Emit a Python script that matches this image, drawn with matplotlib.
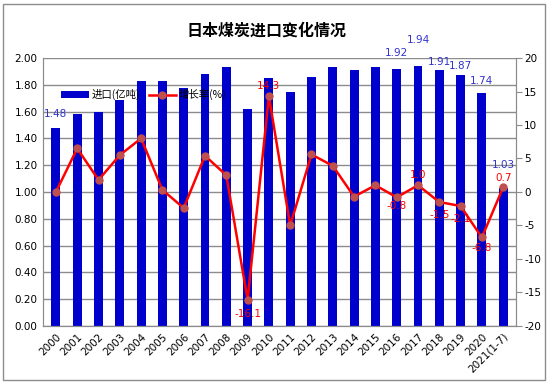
import matplotlib
matplotlib.use("Agg")
import matplotlib.pyplot as plt
from matplotlib.patches import Rectangle

plt.rcParams['font.family'] = ['DejaVu Sans', 'Noto Sans CJK SC']

years = ['2000', '2001', '2002', '2003', '2004', '2005', '2006', '2007', '2008', '2009',
         '2010', '2011', '2012', '2013', '2014', '2015', '2016', '2017', '2018', '2019',
         '2020', '2021(1-7)']
imports = [1.48, 1.58, 1.60, 1.69, 1.83, 1.83, 1.78, 1.88, 1.93, 1.62,
           1.85, 1.75, 1.86, 1.93, 1.91, 1.93, 1.92, 1.94, 1.91, 1.87,
           1.74, 1.03]
growth = [0.0, 6.5, 1.8, 5.5, 8.0, 0.3, -2.4, 5.4, 2.5, -16.1,
          14.3, -5.0, 5.6, 3.9, -0.7, 1.0, -0.8, 1.0, -1.5, -2.1,
          -6.8, 0.7]
import_label_idx = [0, 16, 17, 18, 19, 20, 21]
growth_label_idx = [9, 10, 16, 17, 18, 19, 20, 21]

# label offsets in points (layout only)
import_label_off = [6, 8, 15, 2, 3, 5, 13]
growth_label_off = [-7, 4, -3, 4, -6, -6, -4, 3]

fig = plt.figure(figsize=(5.53, 3.87), dpi=100)
fig.patches.append(Rectangle((0.006, 0.018), 0.980, 0.972, transform=fig.transFigure,
                             fill=False, edgecolor='#8c8c8c', linewidth=1.0))
ax = fig.add_axes([0.078, 0.158, 0.855, 0.692])
x = list(range(len(years)))
bars = ax.bar(x, imports, width=0.42, color='#0000CC', zorder=2, label='进口(亿吨)')
ax.set_ylim(0, 2.0)
ax.set_yticks([i * 0.2 for i in range(11)])
ax.set_yticklabels([f'{i*0.2:.2f}' for i in range(11)], fontsize=7.5)
ax.set_xlim(-0.6, len(years) - 0.4)
ax.set_xticks(x)
ax.set_xticklabels(years, rotation=45, ha='right', rotation_mode='anchor', fontsize=7.5)
ax.grid(axis='y', color='#8c8c8c', linewidth=1.0, zorder=0)
ax.tick_params(axis='x', length=0, pad=4)
ax.tick_params(axis='y', length=0, pad=4)
ax.spines['top'].set_visible(False)
for s in ['left', 'bottom', 'right']:
    ax.spines[s].set_color('#8c8c8c')

ax2 = ax.twinx()
line, = ax2.plot(x, growth, color='#FF0000', linewidth=1.8, marker='o', markersize=5,
                 markerfacecolor='#C0504D', markeredgecolor='#C0504D', zorder=3,
                 label='增长率(%)')
ax2.set_ylim(-20, 20)
ax2.set_yticks(range(-20, 21, 5))
ax2.set_yticklabels([str(v) for v in range(-20, 21, 5)], fontsize=7.5)
ax2.tick_params(axis='y', length=4, color='#8c8c8c', pad=2)
ax2.spines['top'].set_visible(False)
for s in ['left', 'bottom', 'right']:
    ax2.spines[s].set_color('#8c8c8c')

for i, off in zip(import_label_idx, import_label_off):
    ax.annotate(f'{imports[i]:.2f}', (x[i], imports[i]), xytext=(0, off),
                textcoords='offset points', ha='center', va='bottom',
                fontsize=7.5, color='#3333CC', zorder=6)
for i, off in zip(growth_label_idx, growth_label_off):
    ax2.annotate(f'{growth[i]:.1f}', (x[i], growth[i]), xytext=(0, off),
                 textcoords='offset points', ha='center',
                 va='bottom' if off > 0 else 'top', fontsize=7.5, color='#FF0000')

leg = ax.legend([bars, line], ['进口(亿吨)', '增长率(%)'], loc='upper left',
                bbox_to_anchor=(0.03, 0.9), ncol=2, frameon=False,
                prop={'family': ['Noto Sans CJK SC', 'DejaVu Sans'], 'size': 7.5},
                handlelength=2.6, columnspacing=0.8, handletextpad=0.3,
                borderaxespad=0.0)
leg.set_zorder(5)

fig.text(0.482, 0.922, '日本煤炭进口变化情况', ha='center', va='center', fontsize=11.5,
         fontweight='bold', family=['Noto Sans CJK SC', 'DejaVu Sans'])

fig.savefig('out.png', dpi=100)
